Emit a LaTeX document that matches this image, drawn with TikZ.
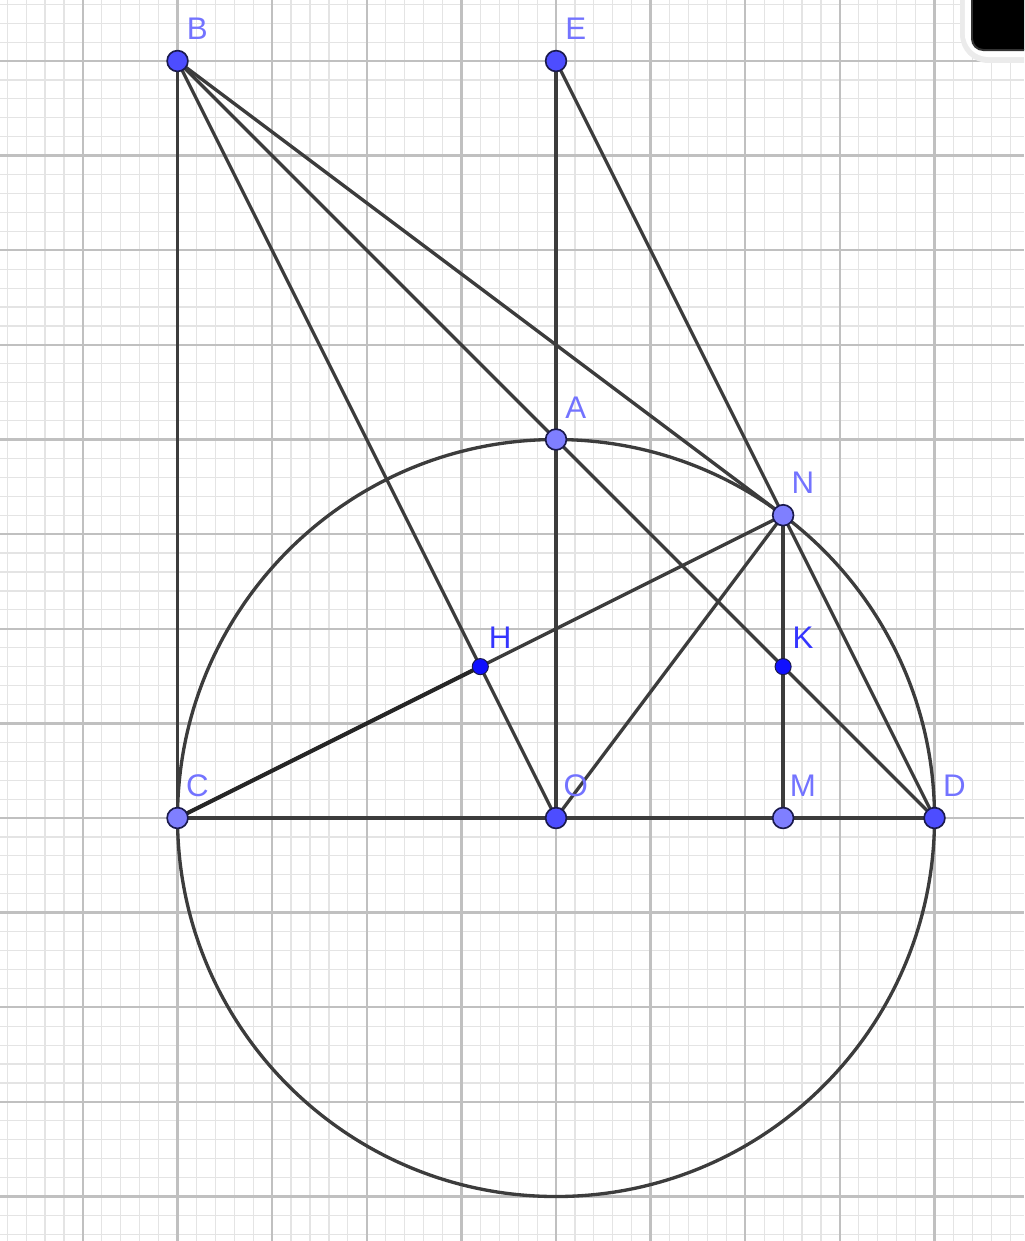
\documentclass[tikz,border=0pt]{standalone}
\usepackage{fontspec}
\setmainfont{Liberation Sans}
\usetikzlibrary{calc}
\pgfdeclarelayer{bg}
\pgfsetlayers{bg,main}
\definecolor{ptdark}{HTML}{4D4DFF}
\definecolor{ptlight}{HTML}{7F7FFF}
\definecolor{ptsmall}{HTML}{1010FF}
\definecolor{ptrim}{HTML}{1A1A4D}
\definecolor{lblcol}{HTML}{7373FF}
\definecolor{lbldark}{HTML}{3535FF}
\definecolor{segcol}{HTML}{3C3C3C}
\definecolor{minorgrid}{HTML}{E4E4E4}
\definecolor{majorgrid}{HTML}{C0C0C0}

\begin{document}
\begin{tikzpicture}[line join=round,
                    seg/.style={draw=segcol,line width=1pt},
                    free pt/.style={circle,fill=ptdark,draw=ptrim,line width=0.5pt,inner sep=0pt,minimum size=2.2mm},
                    dep pt/.style={free pt,fill=ptlight},
                    int pt/.style={circle,fill=ptsmall,draw=ptrim,line width=0.3pt,inner sep=0pt,minimum size=1.7mm},
                    lbl/.style={text=lblcol,font=\fontsize{9.4}{11}\selectfont,xshift=2.1mm,yshift=3.4mm},
                    lbl dark/.style={lbl,text=lbldark,yshift=-0.3mm}
                   ]
   \useasboundingbox (-5.876,-4.470) rectangle (4.946,8.645);

   \node[free pt,label={[lbl]center:B}] (B) at (-4,8) {};
   \node[free pt,label={[lbl]center:E}] (E) at (0,8) {};
   \node[dep pt,label={[lbl]center:A}] (A) at (0,4) {};
   \node[dep pt,label={[lbl]center:N}] (N) at (2.4,3.2) {};
   \node[int pt,label={[lbl dark]center:H}] (H) at (-0.8,1.6) {};
   \node[int pt,label={[lbl dark]center:K}] (K) at (2.4,1.6) {};
   \node[dep pt,label={[lbl]center:C}] (C) at (-4,0) {};
   \node[free pt,label={[lbl]center:O}] (O) at (0,0) {};
   \node[dep pt,label={[lbl]center:M}] (M) at (2.4,0) {};
   \node[free pt,label={[lbl]center:D}] (D) at (4,0) {};

   \begin{pgfonlayer}{bg}
     % grid
     \draw[minorgrid,line width=0.35pt,step=0.2] (-5.876,-4.470) grid (4.946,8.645);
     \draw[majorgrid,line width=0.7pt,step=1] (-5.876,-4.470) grid (4.946,8.645);
     \draw[seg] (O.center) circle (4);
     \path[seg]%
       (B.center) edge (C.center)
       (B.center) edge (O.center)   % through H
       (B.center) edge (D.center)   % through A and K
       (B.center) edge (N.center)
       (E.center) edge (O.center)
       (E.center) edge (N.center)
       (C.center) edge (N.center)
       (O.center) edge (N.center)
       (N.center) edge (M.center)
       (N.center) edge (D.center)
       (C.center) edge (D.center);
     \draw[line width=1.2pt,black!85] (C.center) -- (H.center);
   \end{pgfonlayer}

   % corner of the toolbar button
   \begin{scope}
     \clip (-5.876,-4.470) rectangle (4.946,8.645);
     \fill[black!8,rounded corners=3mm] (4.27,7.979) rectangle (5.5,9.5);
     \fill[white,rounded corners=2.5mm] (4.32,8.042) rectangle (5.5,9.5);
     \draw[black!80,fill=black,line width=0.6pt,rounded corners=1.2mm] (4.396,8.116) rectangle (5.5,9.5);
   \end{scope}
 \end{tikzpicture}
\end{document}
